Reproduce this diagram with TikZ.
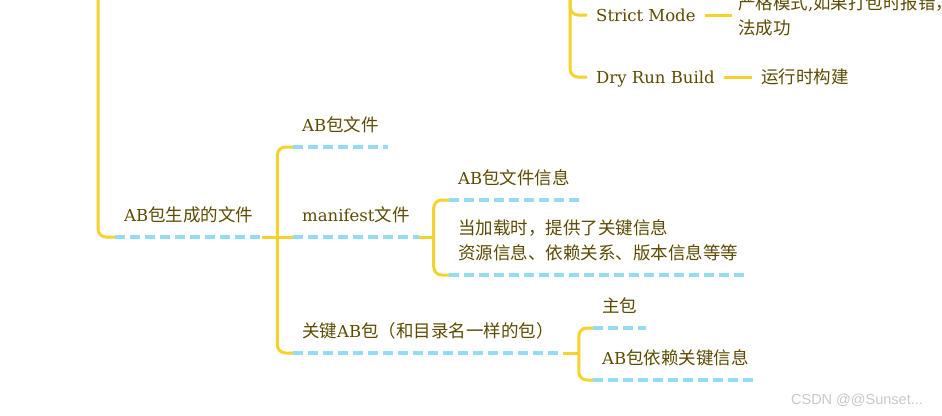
\documentclass[tikz,border=0pt]{standalone}
\usepackage{fontspec}
\setmainfont{DejaVu Serif}
\newfontfamily\cjk{Noto Sans CJK SC}[Scale=1.06]
\newfontfamily\wmfont{Liberation Sans}
\definecolor{txt}{RGB}{92,74,0}
\definecolor{ylw}{RGB}{245,210,45}
\definecolor{ublue}{RGB}{148,220,245}
\definecolor{wmgray}{RGB}{200,200,200}
\begin{document}
\begin{tikzpicture}[x=1pt,y=-1pt,
  every node/.style={text=txt, font=\fontsize{16.5}{25}\selectfont},
  topic/.style={anchor=south west, inner xsep=9pt, inner ysep=11.4pt, text height=13pt, text depth=4pt, align=left},
  leaf/.style={anchor=west, inner xsep=9pt, inner ysep=2pt, align=left},
  latinleaf/.style={leaf, text height=14pt, text depth=1.5pt},
  uline/.style={draw=ublue, line width=3.5pt, dash pattern=on 10pt off 5pt},
  branch/.style={draw=ylw, line width=3pt, rounded corners=8pt},
]
\useasboundingbox (0,0) rectangle (942,415);

% nodes
\node[topic] (gen) at (115,237) {AB{\cjk 包生成的文件}};
\node[topic] (abfile) at (293,147) {AB{\cjk 包文件}};
\node[topic] (manifest) at (293,237) {manifest{\cjk 文件}};
\node[topic] (abinfo) at (449,200) {AB{\cjk 包文件信息}};
\node[topic] (loadinfo) at (449,275) {{\cjk 当加载时，提供了关键信息}\\{\cjk 资源信息、依赖关系、版本信息等等}};
\node[topic] (keyab) at (293,353) {{\cjk 关键}AB{\cjk 包（和目录名一样的包）}};
\node[topic] (mainpkg) at (593,328) {{\cjk 主包}};
\node[topic] (depinfo) at (593,380) {AB{\cjk 包依赖关键信息}};

\node[latinleaf] (strict) at (587,15) {Strict Mode};
\node[leaf, inner xsep=6pt] (strictd) at (732,15) {{\cjk 严格模式}{,}{\cjk 如果打包时报错，则无}\\{\cjk 法成功}};
\node[latinleaf] (dry) at (587,77) {Dry Run Build};
\node[leaf] (dryd) at (752,77) {{\cjk 运行时构建}};

\node[text=wmgray, font=\wmfont\fontsize{14.5}{16}\selectfont] (wm) at (857,400) {CSDN @@Sunset...};

% junctions and off-frame parents
\coordinate (top1) at (98,-10);
\coordinate (top2) at (570,-10);
\coordinate (j1) at ([xshift=15pt]gen.south east);
\coordinate (j2) at ([xshift=15pt]manifest.south east);
\coordinate (j3) at ([xshift=16pt]keyab.south east);

% yellow connectors
\draw[branch] (top1) |- (gen.south west);
\draw[branch] (gen.south east) -- (j1);
\draw[branch] (j1) |- (abfile.south west);
\draw[branch] (j1) -- (manifest.south west);
\draw[branch] (j1) |- (keyab.south west);
\draw[branch] (manifest.south east) -- (j2);
\draw[branch] (j2) |- (abinfo.south west);
\draw[branch] (j2) |- (loadinfo.south west);
\draw[branch] (keyab.south east) -- (j3);
\draw[branch] (j3) |- (mainpkg.south west);
\draw[branch] (j3) |- (depinfo.south west);
\draw[branch] (top2) |- (strict.west);
\draw[branch] (top2) |- (dry.west);
\draw[branch] (strict.east) -- (strictd.west);
\draw[branch] (dry.east) -- (dryd.west);

% dashed underlines
\foreach \n in {gen,abfile,manifest,abinfo,loadinfo,keyab,mainpkg,depinfo}
  \draw[uline] (\n.south west) -- (\n.south east);
\end{tikzpicture}
\end{document}
